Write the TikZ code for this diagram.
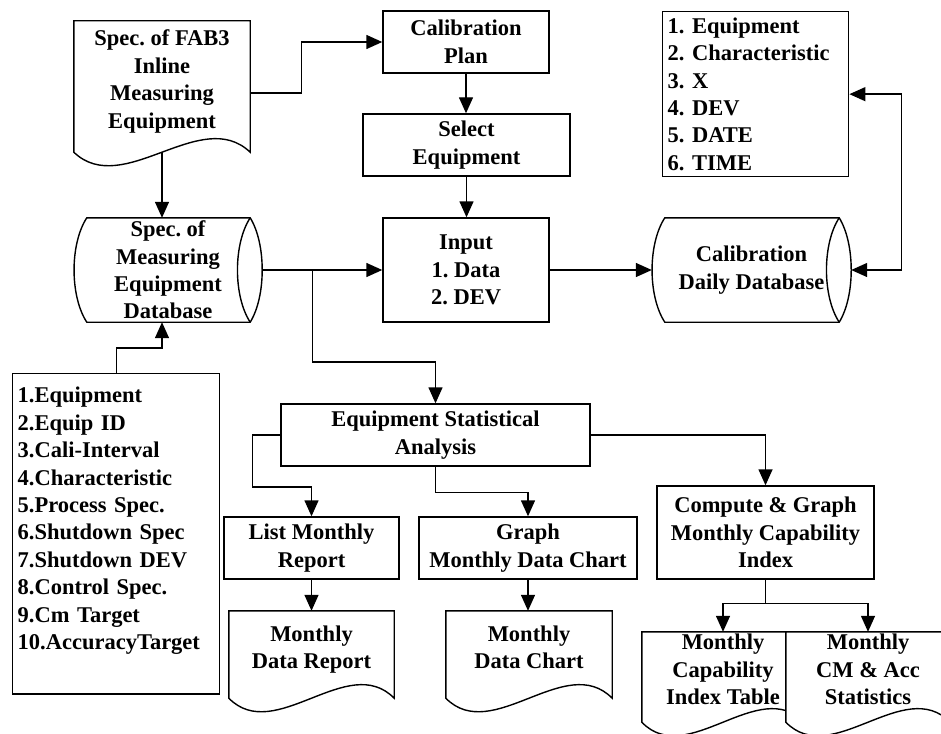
\documentclass[tikz,border=0pt]{standalone}
\usepackage{fontspec}
\setmainfont{Liberation Serif}
\usepackage{tikz}
\usetikzlibrary{arrows.meta,calc,backgrounds}

% document outline with a wavy bottom, drawn round a named node
\newcommand{\docshape}[2][]{%
  \draw[line width=1.4pt,#1] (#2.south west) -- (#2.north west) -- (#2.north east) -- (#2.south east)
    .. controls ($(#2.south east)!0.28!(#2.south west)+(0,-47)$) and ($(#2.south east)!0.72!(#2.south west)+(0,47)$) .. (#2.south west) -- cycle;}

% stored data outline (horizontal drum), drawn round a named node
\newcommand{\dbshape}[1]{%
  \draw[line width=1.4pt] ($(#1.north west)+(13,0)$) -- ($(#1.north east)+(-12,0)$)
    .. controls ($(#1.north east)+(4,26)$) and ($(#1.south east)+(4,-26)$) .. ($(#1.south east)+(-12,0)$)
    -- ($(#1.south west)+(13,0)$)
    .. controls ($(#1.south west)+(-4,-26)$) and ($(#1.north west)+(-4,26)$) .. cycle;
  \draw[line width=1.4pt] ($(#1.north east)+(-12,0)$)
    .. controls ($(#1.north east)+(-29,26)$) and ($(#1.south east)+(-29,-26)$) .. ($(#1.south east)+(-12,0)$);}

\newcommand{\flowfont}{\bfseries\frenchspacing\fontsize{22.5}{27.4}\selectfont}

\begin{document}
\begin{tikzpicture}[
  x=1pt, y=-1pt,
  box/.style={draw, line width=1.4pt, align=center, inner sep=0pt, font=\flowfont},
  listbox/.style={draw, line width=1.4pt, align=left, anchor=north west, inner xsep=5pt, font=\flowfont},
  doc/.style={align=center, inner sep=0pt, text depth=15pt, font=\flowfont},
  db/.style={align=center, inner sep=0pt, font=\flowfont},
  arrow/.style={-{Triangle[length=16pt,width=14pt]}, line width=1.4pt},
  dblarrow/.style={{Triangle[length=16pt,width=14pt]}-{Triangle[length=16pt,width=14pt]}, line width=1.4pt}
]
\useasboundingbox (0,0) rectangle (941,733);

\node[doc, minimum width=176pt, minimum height=131pt] (fabspec) at (162,86.5) {Spec. of FAB3\\Inline\\Measuring\\Equipment};
\node[box, minimum width=166pt, minimum height=62pt] (calplan) at (466,42) {Calibration\\Plan};
\node[box, minimum width=207pt, minimum height=62pt] (selequip) at (466.5,145) {Select\\Equipment};
\node[box, minimum width=166pt, minimum height=104pt] (inputbox) at (466,270) {Input\\1. Data\\2. DEV};
\node[db, minimum width=188pt, minimum height=104pt] (specdb) at (168,270) {Spec. of\\Measuring\\Equipment\\Database};
\node[db, minimum width=199pt, minimum height=104pt] (dailydb) at (751.5,270) {Calibration\\Daily Database};
\node[listbox, inner ysep=6pt, text width=176pt] (dailyfields) at (662,11) {1. Equipment\\2. Characteristic\\3. X\\4. DEV\\5. DATE\\6. TIME};
\node[listbox, inner ysep=13.5pt, text width=197pt, text depth=277.5pt] (specfields) at (12,373) {1.Equipment\\2.Equip ID\\3.Cali-Interval\\4.Characteristic\\5.Process Spec.\\6.Shutdown Spec\\7.Shutdown DEV\\8.Control Spec.\\9.Cm Target\\10.AccuracyTarget};
\node[box, minimum width=309pt, minimum height=62pt] (stats) at (435.5,435) {Equipment Statistical\\Analysis};
\node[box, minimum width=175pt, minimum height=62pt] (listrep) at (311.5,548) {List Monthly\\Report};
\node[box, minimum width=218pt, minimum height=62pt] (graphchart) at (528,548) {Graph\\Monthly Data Chart};
\node[box, minimum width=217pt, minimum height=93pt] (capindex) at (765.5,532.5) {Compute \& Graph\\Monthly Capability\\Index};
\node[doc, minimum width=165pt, minimum height=87pt] (datareport) at (311.5,654.5) {Monthly\\Data Report};
\node[doc, minimum width=166pt, minimum height=87pt] (datachart) at (529,654.5) {Monthly\\Data Chart};
\node[doc, minimum width=162pt, minimum height=90pt] (captable) at (723,677) {Monthly\\Capability\\Index Table};
\node[doc, minimum width=164pt, minimum height=90pt] (cmstats) at (868,677) {Monthly\\CM \& Acc\\Statistics};

\docshape{fabspec}
\docshape{datareport}
\docshape{datachart}
\begin{scope}[on background layer]
  \docshape[fill=white]{captable}
  \docshape[fill=white]{cmstats}
\end{scope}
\dbshape{specdb}
\dbshape{dailydb}

\coordinate (split) at ($(specdb.east)!0.42!(inputbox.west)$);

\draw[arrow] ([yshift=-6.5pt]fabspec.east) -- ++(51,0) |- (calplan.west);
\draw[arrow] (calplan.south) -- (calplan.south |- selequip.north);
\draw[arrow] (selequip.south) -- (selequip.south |- inputbox.north);
\draw[arrow] (fabspec.south) -- (fabspec.south |- specdb.north);
\draw[arrow] (specfields.north) -- ++(0,-25) -| (fabspec.south |- specdb.south);
\draw[arrow] (specdb.east) -- (inputbox.west);
\draw[arrow] (split) -- ++(0,92) -| (stats.north);
\draw[arrow] (inputbox.east) -- (dailydb.west);
\draw[dblarrow] (dailyfields.east) -- ++(52,0) |- (dailydb.east);
\draw[arrow] (stats.west) -| ++(-28,52) -| (listrep.north);
\draw[arrow] (stats.south) -- ++(0,26) -| (graphchart.north);
\draw[arrow] (stats.east) -| (capindex.north);
\draw[arrow] (listrep.south) -- (datareport.north);
\draw[arrow] (graphchart.south) -- (graphchart.south |- datachart.north);
\draw[arrow] (capindex.south) -- ++(0,24) -| (captable.north);
\draw[arrow] (capindex.south) -- ++(0,24) -| (cmstats.north);
\end{tikzpicture}
\end{document}
